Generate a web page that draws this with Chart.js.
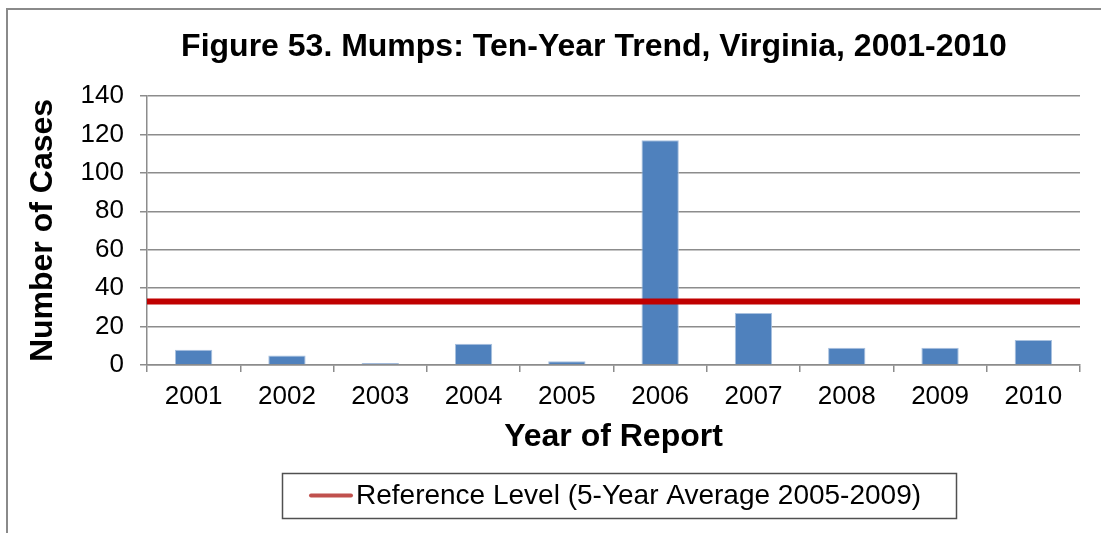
<!DOCTYPE html>
<html>
<head>
<meta charset="utf-8">
<script src="https://cdn.jsdelivr.net/npm/chart.js@4/dist/chart.umd.min.js"></script>
<style>
  html, body { margin: 0; padding: 0; background: #fff; }
  #wrap { width: 1101px; height: 533px; }
</style>
</head>
<body>
<div id="wrap"><canvas id="mumps"></canvas></div>
<script>
// Datos
var years = ["2001", "2002", "2003", "2004", "2005", "2006", "2007", "2008", "2009", "2010"];
var cases = [8, 5, 1, 11, 2, 117, 27, 9, 9, 13];
var refLevel = 33; // promedio 2005-2009
var yTicks = [0, 20, 40, 60, 80, 100, 120, 140];

var chartTitle = "Figure 53. Mumps: Ten-Year Trend, Virginia, 2001-2010";
var refLabel = "Reference Level (5-Year Average 2005-2009)";

var gridGray = "#8c8c8c";
var fontFam = "'Liberation Sans', Arial, sans-serif";

// Marco, título y leyenda dibujados a mano
var decoPlugin = {
  id: "deco",
  afterDraw: function (chart) {
    var ctx = chart.ctx;
    ctx.save();
    // marco exterior (solo arriba e izquierda visibles)
    ctx.strokeStyle = "#8a8a8a";
    ctx.lineWidth = 2;
    ctx.beginPath();
    ctx.moveTo(7, 533);
    ctx.lineTo(7, 9);
    ctx.lineTo(1101, 9);
    ctx.stroke();

    // título
    ctx.fillStyle = "#000";
    ctx.font = "bold 32px " + fontFam;
    ctx.textAlign = "center";
    ctx.textBaseline = "middle";
    ctx.fillText(chartTitle, 594, 47);

    // leyenda
    var ds = chart.data.datasets[1];
    ctx.strokeStyle = "#505050";
    ctx.lineWidth = 1.5;
    ctx.strokeRect(282.5, 473.5, 674, 45);
    ctx.strokeStyle = "#c0504d";
    ctx.lineWidth = 4;
    ctx.lineCap = "round";
    ctx.beginPath();
    ctx.moveTo(311, 495.5);
    ctx.lineTo(351, 495.5);
    ctx.stroke();
    ctx.font = "28px " + fontFam;
    ctx.textAlign = "left";
    ctx.fillText(ds.label, 356, 496);
    ctx.restore();
  }
};

var ctx = document.getElementById("mumps").getContext("2d");
var myChart = new Chart(ctx, {
  type: "bar",
  data: {
    labels: years,
    datasets: [
      {
        label: "Cases",
        data: cases,
        backgroundColor: "#4f81bd",
        borderColor: "#a9c1df",
        borderWidth: 1,
        grouped: false,
        barPercentage: 0.4,
        categoryPercentage: 1.0,
        order: 1
      },
      {
        type: "line",
        label: refLabel,
        data: years.map(function () { return refLevel; }),
        xAxisID: "x2",
        borderColor: "#c00000",
        borderWidth: 6,
        pointRadius: 0,
        fill: false,
        order: 0
      }
    ]
  },
  options: {
    responsive: true,
    maintainAspectRatio: false,
    animation: false,
    layout: {
      padding: { left: 20, right: 21, top: 96, bottom: 73 }
    },
    scales: {
      x: {
        offset: true,
        grid: {
          drawOnChartArea: false,
          drawTicks: true,
          tickLength: 7,
          color: gridGray,
          lineWidth: 1.5
        },
        border: { color: gridGray, width: 1.5 },
        ticks: {
          color: "#000",
          padding: 9,
          font: { family: fontFam, size: 26 }
        },
        title: {
          display: true,
          text: "Year of Report",
          color: "#000",
          padding: { top: 8, bottom: 4 },
          font: { family: fontFam, size: 32, weight: "bold" }
        },
        afterFit: function (scale) { scale.height = 95; }
      },
      x2: {
        type: "category",
        labels: years,
        offset: false,
        display: false
      },
      y: {
        min: 0,
        max: 140,
        afterBuildTicks: function (scale) {
          scale.ticks = yTicks.map(function (v) { return { value: v }; });
        },
        grid: {
          color: gridGray,
          lineWidth: 1.5,
          drawTicks: true,
          tickLength: 7
        },
        border: { color: gridGray, width: 1.5 },
        ticks: {
          color: "#000",
          padding: 16,
          font: { family: fontFam, size: 26 }
        },
        title: {
          display: true,
          text: "Number of Cases",
          color: "#000",
          padding: { top: 4, bottom: 4 },
          font: { family: fontFam, size: 32, weight: "bold" }
        },
        afterFit: function (scale) { scale.width = 127; }
      }
    },
    plugins: {
      legend: { display: false },
      title: { display: false },
      tooltip: { enabled: false }
    }
  },
  plugins: [decoPlugin]
});
</script>
</body>
</html>
